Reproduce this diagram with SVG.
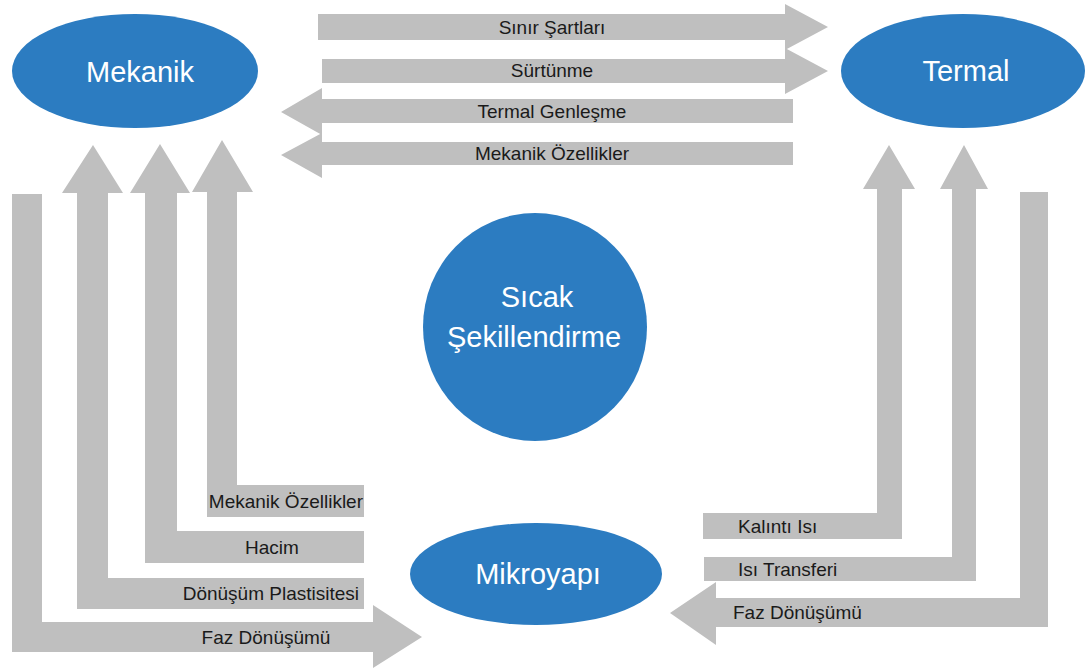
<svg xmlns="http://www.w3.org/2000/svg" width="1087" height="671" viewBox="0 0 1087 671">
  <style>
    .node { fill: #2c7cc1; }
    .ntext { fill: #ffffff; font-family: "Liberation Sans", Arial, sans-serif; font-size: 29px; text-anchor: middle; }
    .arrow { fill: #bfbfbf; }
    .label { fill: #1a1a1a; font-family: "Liberation Sans", Arial, sans-serif; font-size: 19px; }
    .mid { text-anchor: middle; }
    .end { text-anchor: end; }
  </style>
  <rect width="1087" height="671" fill="#ffffff"/>

  <g id="connectors">
    <!-- top arrows -->
    <polygon class="arrow" points="318,14 785,14 785,4 828,27 785,50 785,40 318,40"/>
    <polygon class="arrow" points="322,59 785,59 785,48 828,71 785,94 785,83 322,83"/>
    <polygon class="arrow" points="793,99 322,99 322,88 281,112 322,135 322,123 793,123"/>
    <polygon class="arrow" points="793,142 322,142 322,133 281,155 322,178 322,165 793,165"/>
    <text class="label mid" x="552" y="34">Sınır Şartları</text>
    <text class="label mid" x="552" y="77">Sürtünme</text>
    <text class="label mid" x="552" y="118">Termal Genleşme</text>
    <text class="label mid" x="552" y="160">Mekanik Özellikler</text>

    <!-- left L arrows -->
    <polygon class="arrow" points="222,140 253,192 237,192 237,485 364,485 364,517 207,517 207,192 192,192"/>
    <polygon class="arrow" points="160,144 190,193 177,193 177,531 364,531 364,563 145,563 145,193 130,193"/>
    <polygon class="arrow" points="93,145 123,193 108,193 108,578 364,578 364,609 77,609 77,193 62,193"/>
    <polygon class="arrow" points="12,194 42,194 42,622 373,622 373,605 422,637 373,668 373,652 12,652"/>
    <text class="label end" x="363" y="508">Mekanik Özellikler</text>
    <text class="label mid" x="272" y="554">Hacim</text>
    <text class="label end" x="359" y="600">Dönüşüm Plastisitesi</text>
    <text class="label mid" x="266" y="644">Faz Dönüşümü</text>

    <!-- right L arrows -->
    <polygon class="arrow" points="889,145 915,189 902,189 902,539 703,539 703,513 877,513 877,189 863,189"/>
    <polygon class="arrow" points="964,145 988,189 976,189 976,581 704,581 704,557 952,557 952,189 940,189"/>
    <polygon class="arrow" points="1020,192 1048,192 1048,627 716,627 716,645 670,613 716,582 716,598 1020,598"/>
    <text class="label" x="738" y="533">Kalıntı Isı</text>
    <text class="label" x="738" y="576">Isı Transferi</text>
    <text class="label" x="733" y="619">Faz Dönüşümü</text>
  </g>

  <g id="mekanik">
    <ellipse class="node" cx="135" cy="71" rx="123" ry="57"/>
    <text class="ntext" x="140" y="82">Mekanik</text>
  </g>

  <g id="termal">
    <ellipse class="node" cx="963" cy="71" rx="122" ry="57"/>
    <text class="ntext" x="966" y="81">Termal</text>
  </g>

  <g id="sicak-sekillendirme">
    <ellipse class="node" cx="535" cy="327" rx="112" ry="114"/>
    <text class="ntext" x="537" y="307">Sıcak</text>
    <text class="ntext" x="534" y="347">Şekillendirme</text>
  </g>

  <g id="mikroyapi">
    <ellipse class="node" cx="536" cy="574" rx="126" ry="51"/>
    <text class="ntext" x="538" y="584">Mikroyapı</text>
  </g>
</svg>
